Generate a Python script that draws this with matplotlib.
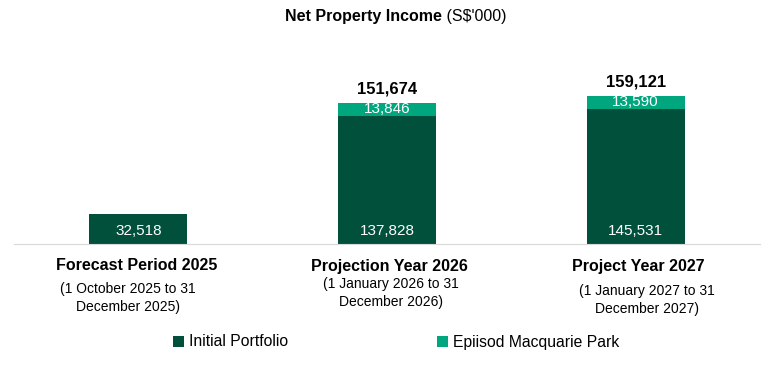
import numpy as np
import matplotlib.pyplot as plt

categories = ['Forecast Period 2025', 'Projection Year 2026', 'Project Year 2027']
periods = ['(1 October 2025 to 31\nDecember 2025)',
           '(1 January 2026 to 31\nDecember 2026)',
           '(1 January 2027 to 31\nDecember 2027)']
initial = [32518, 137828, 145531]
epiisod = [0, 13846, 13590]
totals = [None, 151674, 159121]

dark = '#00503b'
light = '#00a67e'
plt.rcParams['font.family'] = ['Liberation Sans', 'DejaVu Sans']

fig = plt.figure(figsize=(7.72, 3.66), dpi=100)
ax = fig.add_axes([14 / 772, 122 / 366, 746 / 772, 158 / 366])

x = np.arange(len(categories))
w = 0.395
ax.bar(x, initial, w, color=dark, label='Initial Portfolio')
ax.bar(x, epiisod, w, bottom=initial, color=light, label='Epiisod Macquarie Park')

for i in range(len(x)):
    ax.text(x[i], min(initial[i] / 2, 13500), '{:,}'.format(initial[i]),
            ha='center', va='center', color='white', fontsize=11)
    if epiisod[i]:
        ax.text(x[i], initial[i] + epiisod[i] / 2, '{:,}'.format(epiisod[i]),
                ha='center', va='center', color='white', fontsize=11)
    if totals[i]:
        ax.annotate('{:,}'.format(totals[i]), (x[i], initial[i] + epiisod[i]),
                    xytext=(0, 5), textcoords='offset points',
                    ha='center', va='bottom', fontsize=12, fontweight='bold')

ax.set_xlim(-0.5, 2.5)
ax.set_ylim(0, 170000)
for s in ['top', 'right', 'left']:
    ax.spines[s].set_visible(False)
ax.spines['bottom'].set_color('#d9d9d9')
ax.set_xticks([])
ax.set_yticks([])

# category labels under the axis
cat_x = [137, 389, 638]
sub_x = [128, 391, 647]
sub_y = [298, 293, 300]
for i in range(len(categories)):
    fig.text(cat_x[i] / 772, 1 - 266 / 366, categories[i], ha='center', va='center',
             fontsize=11.5, fontweight='bold')
    fig.text(sub_x[i] / 772, 1 - sub_y[i] / 366, periods[i], ha='center', va='center',
             fontsize=10, linespacing=1.45)

fig.text(442 / 772, 1 - 17 / 366, 'Net Property Income', ha='right', va='center',
         fontsize=11.5, fontweight='bold')
fig.text(442 / 772, 1 - 17 / 366, " (S$'000)", ha='left', va='center', fontsize=11.5)

handles, labels = ax.get_legend_handles_labels()
fig.legend(handles, labels, loc='center', bbox_to_anchor=(396 / 772, 1 - 342 / 366),
           ncol=2, frameon=False, fontsize=11.3, columnspacing=9.5,
           handlelength=0.7, handleheight=0.7, handletextpad=0.3)

fig.savefig('out.png', dpi=100)
